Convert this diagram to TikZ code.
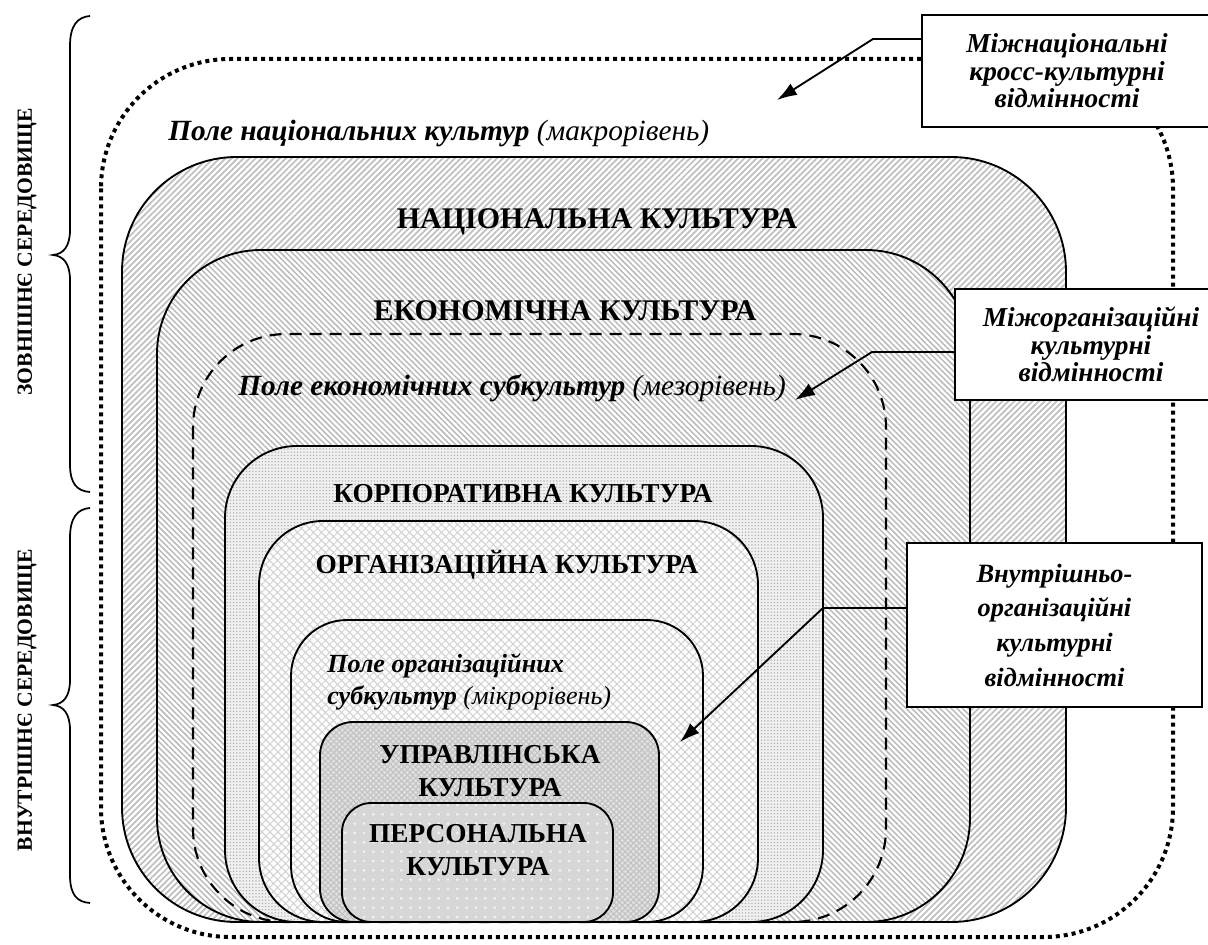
\documentclass[tikz,border=0pt]{standalone}
\usepackage{fontspec}
\setmainfont{Liberation Serif}
\usetikzlibrary{arrows.meta,patterns.meta}

\begin{document}
\begin{tikzpicture}[x=0.75pt,y=-0.75pt,
  layer/.style={draw=black, line width=1.4pt},
  natfill/.style={preaction={fill=white},
    pattern={Lines[angle=45,distance=3.2pt,line width=1.3pt]}, pattern color=gray!50},
  ecofill/.style={preaction={fill=white},
    pattern={Lines[angle=-45,distance=3pt,line width=1.1pt]}, pattern color=gray!55},
  corpfill/.style={preaction={fill=gray!12},
    pattern={Dots[distance=2.4pt,radius=0.6pt]}, pattern color=gray!60},
  orgfill/.style={preaction={fill=white},
    preaction={pattern={Lines[angle=45,distance=4pt,line width=1pt]}, pattern color=gray!38},
    pattern={Lines[angle=-45,distance=4pt,line width=1pt]}, pattern color=gray!38},
  mgmtfill/.style={preaction={fill=gray!24},
    preaction={pattern={Lines[angle=45,distance=3pt,line width=0.8pt]}, pattern color=gray!48},
    pattern={Lines[angle=-45,distance=3pt,line width=0.8pt]}, pattern color=gray!48},
  persfill/.style={preaction={fill=gray!32},
    pattern={Dots[distance=7pt,radius=1.1pt]}, pattern color=gray!10},
  envtext/.style={font=\fontsize{16.2}{18}\selectfont\bfseries, rotate=90},
  headtext/.style={font=\fontsize{22.5}{26}\selectfont\bfseries},
  subhead/.style={font=\fontsize{20.5}{25}\selectfont\bfseries, align=center},
  fieldtext/.style={font=\fontsize{22}{26}\selectfont, anchor=west, inner sep=0pt},
  smallfield/.style={font=\fontsize{19.6}{24}\selectfont, anchor=west, inner sep=0pt, align=left},
  callbox/.style={draw, line width=1.4pt, fill=white, align=center, inner sep=0pt},
  link/.style={line width=1.4pt, -{Latex[length=15pt,width=10pt]}},
  bracepath/.style={line width=1.3pt}
]
\useasboundingbox (0,0) rectangle (1208,945);

% outer field of national cultures
\draw[line width=3pt, dash pattern=on 3pt off 3pt, rounded corners=97pt]
  (101,59) rectangle (1173,937);

% nested culture layers, all resting on one base line
\draw[layer, natfill, rounded corners=86pt] (122,157) rectangle (1066,922);
\draw[layer, ecofill, rounded corners=78pt] (157,250) rectangle (970,922);
\draw[layer, line width=1.6pt, dash pattern=on 9pt off 6pt, rounded corners=70pt] (193,334) rectangle (886,922);
\draw[layer, corpfill, rounded corners=54pt] (225,446) rectangle (823,922);
\draw[layer, orgfill, rounded corners=48pt] (259,521) rectangle (758,922);
\draw[layer, rounded corners=42pt] (291,620) rectangle (703,922);
\draw[layer, mgmtfill, rounded corners=25pt] (320,722) rectangle (659,922);
\draw[layer, persfill, rounded corners=22pt] (342,803) rectangle (613,922);

% braces for the environments
\draw[bracepath] (90,16) .. controls (77,17) and (70,26) .. (70,46) -- (70,230)
  .. controls (70,247) and (63,254) .. (53,255)
  .. controls (63,256) and (70,263) .. (70,280) -- (70,464)
  .. controls (70,484) and (77,491) .. (90,492);
\draw[bracepath] (90,508) .. controls (77,509) and (70,518) .. (70,538) -- (70,680)
  .. controls (70,697) and (63,704) .. (53,705)
  .. controls (63,706) and (70,713) .. (70,730) -- (70,875)
  .. controls (70,895) and (77,902) .. (90,903);
\node[envtext] (extenv) at (27,252) {ЗОВНІШНЄ СЕРЕДОВИЩЕ};
\node[envtext] (intenv) at (27,700) {ВНУТРІШНЄ СЕРЕДОВИЩЕ};

% labels of the layers
\node[fieldtext] (macro) at (168,133) {\bfseries\itshape Поле національних культур \normalfont\itshape(макрорівень)};
\node[headtext] (national) at (597,222) {НАЦІОНАЛЬНА КУЛЬТУРА};
\node[headtext] (economic) at (565,311) {ЕКОНОМІЧНА КУЛЬТУРА};
\node[fieldtext] (meso) at (238,388) {\bfseries\itshape Поле економічних субкультур \normalfont\itshape(мезорівень)};
\node[subhead] (corporate) at (523,494) {КОРПОРАТИВНА КУЛЬТУРА};
\node[subhead] (organisation) at (507,565) {ОРГАНІЗАЦІЙНА КУЛЬТУРА};
\node[smallfield] (micro) at (327,682) {\bfseries\itshape Поле організаційних\\
  \bfseries\itshape субкультур \normalfont\itshape(мікрорівень)};
\node[subhead] (management) at (490,771) {УПРАВЛІНСЬКА\\КУЛЬТУРА};
\node[subhead] (personal) at (478,850) {ПЕРСОНАЛЬНА\\КУЛЬТУРА};

% callouts
\node[callbox, minimum width=290*0.75pt, minimum height=112*0.75pt,
  font=\fontsize{20.5}{20.6}\selectfont\bfseries\itshape] (crossnat) at (1067,71)
  {Міжнаціональні\\кросс-культурні\\відмінності};
\node[callbox, minimum width=272*0.75pt, minimum height=111*0.75pt,
  font=\fontsize{20.5}{20.6}\selectfont\bfseries\itshape] (interorg) at (1091,344.5)
  {Міжорганізаційні\\культурні\\відмінності};
\node[callbox, minimum width=295*0.75pt, minimum height=164*0.75pt,
  font=\fontsize{19.8}{26}\selectfont\bfseries\itshape] (intraorg) at (1054.5,625)
  {Внутрішньо-\\організаційні\\культурні\\відмінності};

% connectors
\coordinate (bendA) at (873,39);
\coordinate (tipA) at (777,100);
\coordinate (bendB) at (872,352);
\coordinate (tipB) at (795,400);
\coordinate (bendC) at (823,608);
\coordinate (tipC) at (680,742);
\draw[link] (crossnat.west |- bendA) -- (bendA) -- (tipA);
\draw[link] (interorg.west |- bendB) -- (bendB) -- (tipB);
\draw[link] (intraorg.west |- bendC) -- (bendC) -- (tipC);
\end{tikzpicture}
\end{document}
